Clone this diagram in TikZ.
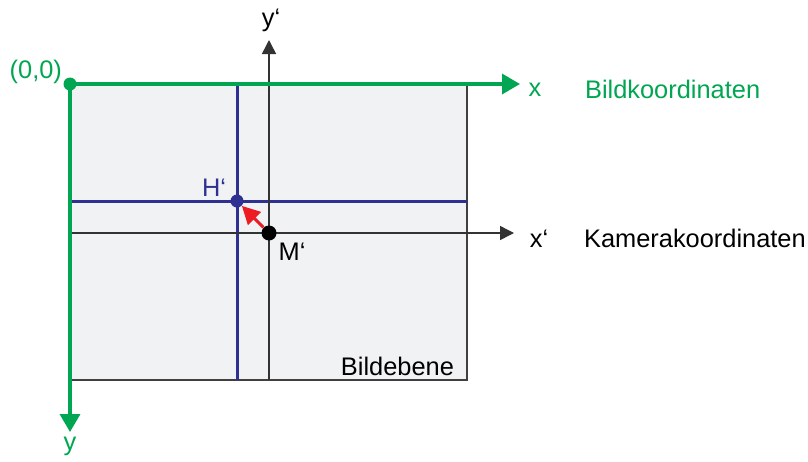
\documentclass[tikz,border=0pt]{standalone}
\usepackage{fontspec}
\setmainfont{Liberation Sans}
\usetikzlibrary{arrows.meta}
\definecolor{bildgruen}{RGB}{0,166,81}
\definecolor{hauptblau}{RGB}{46,49,146}
\definecolor{pfeilrot}{RGB}{237,28,36}
\definecolor{ebenengrau}{RGB}{241,242,244}
\tikzset{
  gruenachse/.style={draw=bildgruen, line width=1.7pt, -{Triangle[length=9pt,width=10pt]}},
  kameraachse/.style={draw=black!80, line width=0.75pt, -{Triangle[length=7pt,width=7pt]}},
  hauptlinie/.style={draw=hauptblau, line width=1.5pt},
  punkt/.style={circle, inner sep=0pt, minimum size=6.5pt},
}
\begin{document}
\begin{tikzpicture}[x=0.5pt, y=-0.5pt, font=\fontsize{12.7}{15}\selectfont]
  \useasboundingbox (0,0) rectangle (808,461);
  % Bildebene
  \fill[ebenengrau] (70,84) rectangle (467,380);
  \draw[black!75, line width=0.75pt] (467,84) -- (467,380) -- (70,380);
  \node[anchor=base east] (ebene) at (461,375) {Bildebene};
  % Bildhauptpunkt-Linien
  \draw[hauptlinie] (237,84) -- (237,380);
  \draw[hauptlinie] (70,201) -- (467,201);
  % Kamerakoordinaten
  \coordinate (xlinks) at (70,233);
  \coordinate (xspitze) at (514,233);
  \coordinate (yunten) at (269,380);
  \coordinate (yspitze) at (269,40);
  \draw[kameraachse] (xlinks) -- (xspitze);
  \draw[kameraachse] (yunten) -- (yspitze);
  \node (xs) at (539,239) {x‘};
  \node (ys) at (271,20) {y‘};
  \node[anchor=west] (kamera) at (577,238) {Kamerakoordinaten};
  % Bildkoordinaten
  \coordinate (ursprung) at (70,84);
  \coordinate (xende) at (520,84);
  \coordinate (yende) at (70,432);
  \draw[gruenachse] (ursprung) -- (xende);
  \draw[gruenachse] (ursprung) -- (yende);
  \node[bildgruen] (x) at (535,90) {x};
  \node[bildgruen] (y) at (70,446) {y};
  \node[bildgruen, anchor=east] (null) at (69,72) {(0,0)};
  \node[bildgruen, anchor=west] (bild) at (578,89) {Bildkoordinaten};
  % Punkte
  \node[punkt, fill=bildgruen] (O) at (ursprung) {};
  \node[punkt, fill=hauptblau] (H) at (237,201) {};
  \node[punkt, fill=black, minimum size=7.5pt] (M) at (269,233) {};
  \draw[pfeilrot, line width=1.5pt, -{Triangle[length=9pt,width=9pt]}] (M) -- (H);
  \node[hauptblau] (Hl) at (214,188) {H‘};
  \node (Ml) at (292,252) {M‘};
\end{tikzpicture}
\end{document}
